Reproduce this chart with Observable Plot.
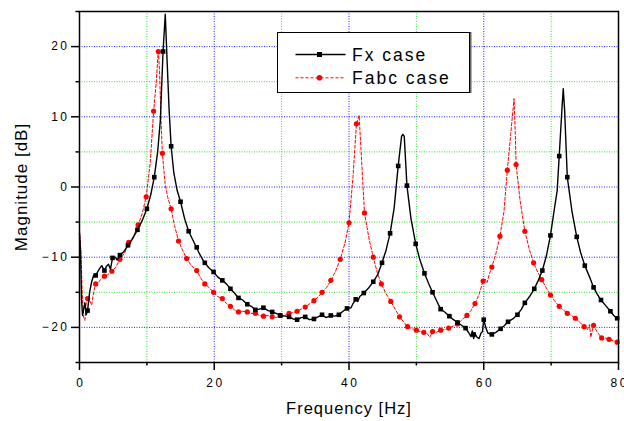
<!DOCTYPE html>
<html>
<head>
<meta charset="utf-8">
<script src="https://cdn.jsdelivr.net/npm/d3@7"></script>
<script src="https://cdn.jsdelivr.net/npm/@observablehq/plot@0.6"></script>
<style>
  html, body { margin: 0; padding: 0; background: #fff; }
  #wrap { position: relative; width: 624px; height: 421px; }
  #legend { position: absolute; left: 277px; top: 32px; width: 191px; height: 59px;
            border: 1.5px solid #000; background: #fff; box-shadow: 1.5px 0 0 #666; }
  #legend svg { display: block; }
  #legend text { font-family: "Liberation Sans", Arial, sans-serif; font-size: 17.5px; letter-spacing: 2px; }
</style>
</head>
<body>
<div id="wrap"></div>
<script>
// ---- Fx case: continuous curve (frequency [Hz], magnitude [dB]) ----
const fxFreq = [0,0.15,0.3,0.45,0.6,0.8,1.0,1.2,1.5,1.8,2.1,2.5,3.0,3.3,3.7,4.0,4.3,4.6,4.9,5.3,5.6,6.0,6.5,7.2,7.8,8.6,9.3,10.0,10.6,11.1,11.6,12.0,12.4,12.73,13.0,13.3,13.6,14.0,14.5,15.0,15.6,16.2,16.7,17.2,17.8,18.5,19.2,19.9,20.5,21.2,21.8,22.4,23.0,23.5,24.2,24.9,25.5,26.1,26.7,27.3,28.0,28.6,29.2,29.8,30.5,31.1,31.7,32.3,32.9,33.5,34.1,34.8,35.4,36.0,36.6,37.3,37.9,38.5,39.1,39.7,40.3,40.6,41.0,41.3,41.6,42.2,42.9,43.6,44.3,44.9,45.5,46.1,46.7,47.3,47.8,48.0,48.2,48.6,49.2,49.9,50.5,51.2,51.8,52.4,53.0,53.6,54.2,54.9,55.5,56.1,56.7,57.3,57.8,58.1,58.3,58.5,58.7,59.0,59.3,59.6,59.8,60.0,60.3,60.6,61.2,61.8,62.5,63.0,63.6,64.3,65.0,65.6,66.1,66.8,67.5,68.1,68.7,69.3,69.9,70.5,70.9,71.2,71.6,71.8,72.0,72.4,73.1,73.8,74.4,75.0,75.7,76.3,76.8,77.4,78.1,78.8,79.3,80.0];
const fxMag  = [-6.6,-9,-16,-18.3,-17.5,-16.5,-18.2,-17.6,-15,-13.5,-12.6,-12.4,-11.6,-11.2,-11.9,-11.3,-11.0,-11.7,-10.1,-10.0,-10.4,-9.7,-9.3,-8.3,-7.5,-6.1,-4.8,-3.1,-1.0,1.4,5.0,9.5,19.3,24.6,18,11,5.8,2.0,-0.5,-2.1,-4.5,-6.3,-7.3,-8.3,-9.5,-10.7,-11.5,-12.1,-12.8,-13.3,-13.8,-14.5,-15.1,-15.7,-16.1,-16.7,-17.0,-17.5,-17.4,-17.2,-17.6,-17.8,-18.0,-18.3,-18.4,-18.5,-18.8,-18.9,-18.6,-18.5,-18.9,-18.8,-18.5,-18.2,-18.6,-18.3,-18.4,-18.2,-17.7,-17.3,-17.2,-16.6,-16.0,-16.3,-15.6,-15.1,-14.4,-13.5,-12.4,-10.8,-9.0,-6.6,-3.0,3.0,7.2,7.5,7.2,0.2,-4.5,-8.1,-10.3,-12.3,-13.7,-15.0,-16.2,-17.4,-17.8,-18.4,-18.9,-19.3,-19.7,-20.1,-20.8,-21.3,-20.5,-21.6,-20.9,-21.4,-21.6,-20.8,-20.6,-18.9,-20.0,-20.8,-21.0,-20.7,-20.2,-19.8,-19.2,-18.8,-18.2,-17.4,-16.5,-15.6,-14.5,-13.3,-11.9,-9.8,-6.9,-3.0,-0.5,4.4,11,14.0,11,1.4,-3.5,-7.1,-9.4,-11.2,-12.8,-14.3,-15.2,-16.1,-16.9,-17.7,-18.3,-18.9];
// ---- Fx case: square markers ----
const fxMarkFreq = [1.2,2.4,3.7,4.9,6.0,7.2,8.6,10.0,11.1,12.4,13.6,15.0,16.2,17.4,18.6,19.9,21.2,22.4,23.6,24.9,26.1,27.3,28.6,29.8,31.1,32.3,33.5,34.8,36.0,37.3,38.5,39.7,41.0,42.2,43.6,44.9,46.1,47.3,48.6,49.9,51.2,52.4,53.6,54.9,56.1,57.3,58.5,60.0,61.2,62.5,63.6,65.0,66.1,67.5,68.7,69.9,71.2,72.4,73.8,75.0,76.3,77.4,78.8,79.8];
const fxMarkMag  = [-17.6,-12.6,-11.9,-10.1,-9.7,-8.3,-6.1,-3.1,1.4,19.3,5.8,-2.1,-6.3,-8.6,-10.8,-12.1,-13.3,-14.5,-15.8,-16.7,-17.5,-17.2,-17.8,-18.3,-18.5,-18.9,-18.5,-18.8,-18.2,-18.3,-18.2,-17.3,-16.0,-15.1,-13.5,-10.8,-6.6,3.0,0.2,-8.1,-12.3,-15.0,-17.4,-18.4,-19.3,-20.1,-21.0,-18.9,-21.0,-20.2,-19.2,-18.2,-16.5,-14.5,-11.9,-6.9,4.4,1.4,-7.1,-11.2,-14.3,-16.1,-17.7,-18.7];

// ---- Fabc case: continuous curve ----
const fabcFreq = [0,0.2,0.4,0.6,0.8,1.0,1.2,1.5,1.8,2.1,2.4,2.8,3.2,3.7,4.2,4.8,5.4,6.0,6.7,7.3,8.0,8.7,9.3,9.9,10.5,11.0,11.4,11.7,11.9,12.1,12.3,12.7,13.1,13.6,14.1,14.7,15.3,15.9,16.6,17.4,18.0,18.6,19.2,19.9,20.5,21.2,21.8,22.4,23.0,23.6,24.2,24.9,25.5,26.1,26.7,27.3,28.0,28.6,29.2,29.8,30.5,31.1,31.7,32.3,32.9,33.5,34.2,34.8,35.4,36.0,36.7,37.3,38.0,38.7,39.4,40.0,40.6,41.1,41.5,41.8,42.3,43.0,43.6,44.2,44.8,45.5,46.2,46.9,47.5,48.1,48.7,49.4,50.0,50.6,51.1,51.6,52.0,52.4,53.0,53.6,54.2,54.8,55.5,56.1,56.8,57.5,58.1,58.7,59.3,59.9,60.2,60.5,60.8,61.2,61.8,62.4,63.0,63.5,64.0,64.5,64.7,64.8,65.4,66.1,66.8,67.4,68.0,68.6,69.3,69.9,70.5,71.2,71.8,72.4,73.0,73.6,74.3,74.9,75.4,75.7,75.9,76.1,76.3,76.8,77.5,78.0,78.6,79.2,80.0];
const fabcMag  = [-6.2,-9,-15,-18.5,-19.0,-16.5,-15.9,-16.2,-16.8,-15.0,-13.8,-13.6,-13.1,-12.7,-12.5,-12.0,-11.4,-10.3,-9.4,-7.9,-7.1,-5.4,-3.8,-1.4,3.5,10.8,15,19.6,16,9.5,4.8,0.5,-1.5,-3.1,-5.5,-7.7,-9.0,-10.2,-11.2,-11.9,-13.0,-13.8,-14.3,-15.0,-15.6,-15.9,-16.6,-17.0,-17.5,-17.8,-17.7,-17.8,-18.0,-18.0,-18.3,-18.4,-18.3,-18.5,-18.6,-18.3,-18.3,-18.0,-17.9,-17.7,-17.4,-17.1,-16.6,-16.2,-15.7,-15.0,-14.3,-13.3,-12.0,-10.3,-8.0,-5.1,1.5,9.0,10.2,5,-3.7,-7.5,-10.0,-12.2,-13.8,-15.2,-16.3,-17.5,-18.5,-19.2,-19.9,-20.2,-20.4,-20.6,-20.7,-20.9,-21.4,-20.6,-20.7,-20.4,-20.3,-20.1,-19.8,-19.5,-18.9,-18.3,-17.6,-16.6,-15.3,-13.4,-13.1,-13.6,-12.5,-11.4,-9.5,-7.0,-3.5,2.4,7.5,12.6,7,3.2,-2.0,-6.3,-9.0,-10.8,-12.1,-13.2,-14.4,-15.4,-16.2,-17.0,-17.5,-18.0,-18.3,-18.7,-19.3,-19.9,-20.3,-19.6,-21.4,-20.5,-19.7,-20.6,-21.5,-21.5,-21.7,-21.9,-22.1];
// ---- Fabc case: circle markers ----
const fabcMarkFreq = [1.2,2.4,3.7,4.8,6.0,7.3,8.7,9.9,11.0,11.7,12.3,13.6,14.7,15.9,17.4,18.6,19.9,21.2,22.4,23.6,24.9,26.1,27.3,28.6,29.8,31.1,32.3,33.5,34.8,36.0,37.3,38.7,40.0,41.1,42.3,43.6,44.8,46.2,47.5,48.7,50.0,51.1,52.4,53.6,54.8,56.1,57.5,58.7,59.9,61.2,62.4,63.5,64.8,66.1,67.4,68.6,69.9,71.2,72.4,73.6,74.9,76.3,77.5,78.6,79.8];
const fabcMarkMag  = [-15.9,-13.8,-12.7,-12.0,-10.3,-7.9,-5.4,-1.4,10.8,19.3,4.8,-3.1,-7.7,-10.2,-11.9,-13.8,-15.0,-15.9,-17.0,-17.8,-17.8,-18.0,-18.4,-18.5,-18.3,-18.0,-17.7,-17.1,-16.2,-15.0,-13.3,-10.3,-5.1,9.0,-3.7,-10.0,-13.8,-16.3,-18.5,-19.9,-20.4,-20.7,-20.6,-20.4,-20.1,-19.5,-18.3,-16.6,-13.4,-11.4,-7.0,2.4,3.2,-6.3,-10.8,-13.2,-15.4,-17.0,-18.0,-18.7,-19.9,-19.7,-21.5,-21.7,-22.1];

// ---- ticks and grid ----
const xTickLabels = [0, 20, 40, 60, 80];
const xMinorTicks = [10, 30, 50, 70];
const yTickLabels = [-20, -10, 0, 10, 20];
const yMinorTicks = [-25, -15, -5, 5, 15, 25];
const gridBlueX = [20, 40, 60];
const gridGreenX = [10, 30, 50, 70];
const gridBlueY = [-20, -10, 0, 10, 20];
const gridGreenY = [-15, -5, 5, 15];
const seriesNames = ["Fx case", "Fabc case"];
const xTitle = "Frequency [Hz]";
const yTitle = "Magnitude [dB]";

const zip = (a, b) => a.map((f, i) => ({f, v: b[i]}));
const fx = zip(fxFreq, fxMag);
const fxMarks = zip(fxMarkFreq, fxMarkMag);
const fabc = zip(fabcFreq, fabcMag);
const fabcMarks = zip(fabcMarkFreq, fabcMarkMag);

const dots = "1,1.5";
const chart = Plot.plot({
  width: 624, height: 421,
  marginLeft: 79, marginRight: 6, marginTop: 11, marginBottom: 59,
  x: {domain: [0, 80]},
  y: {domain: [-25, 25]},
  style: {fontFamily: "'Liberation Sans', Arial, sans-serif", fontSize: "12px", color: "black", background: "white"},
  marks: [
    Plot.ruleX(gridGreenX, {stroke: "#33e033", strokeDasharray: dots, strokeWidth: 1}),
    Plot.ruleX(gridBlueX, {stroke: "#2222ff", strokeDasharray: dots, strokeWidth: 1}),
    Plot.ruleY(gridGreenY, {stroke: "#33e033", strokeDasharray: dots, strokeWidth: 1}),
    Plot.ruleY(gridBlueY, {stroke: "#2222ff", strokeDasharray: dots, strokeWidth: 1}),
    Plot.line(fabc, {x: "f", y: "v", stroke: "#ff0000", strokeWidth: 1, strokeDasharray: "3,2"}),
    Plot.dot(fabcMarks, {x: "f", y: "v", symbol: "circle", r: 2.6, fill: "#ff0000", stroke: "none"}),
    Plot.line(fx, {x: "f", y: "v", stroke: "black", strokeWidth: 1.4}),
    Plot.dot(fxMarks, {x: "f", y: "v", symbol: "square", r: 2.6, fill: "black", stroke: "none"}),
    Plot.frame({stroke: "black", strokeWidth: 1.5}),
    Plot.axisX(xTickLabels, {tickSize: 8, tickPadding: 8, strokeWidth: 1.5, label: null, fontSize: 12}),
    Plot.axisX(xMinorTicks, {tickSize: 3.5, strokeWidth: 1.5, tickFormat: () => "", label: null}),
    Plot.axisY(yTickLabels, {tickSize: 8, tickPadding: 2, strokeWidth: 1.5, label: null, fontSize: 12}),
    Plot.axisY(yMinorTicks, {tickSize: 3.5, strokeWidth: 1.5, tickFormat: () => "", label: null}),
    Plot.text([xTitle], {text: d => d, frameAnchor: "bottom", textAnchor: "middle", lineAnchor: "middle", dy: 46.5, fontSize: 16.5}),
    Plot.text([yTitle], {text: d => d, frameAnchor: "left", textAnchor: "middle", lineAnchor: "middle", rotate: -90, dx: -58, fontSize: 17})
  ]
});
document.getElementById("wrap").appendChild(chart);
const svg = d3.select(chart);
svg.selectAll('g[aria-label="x-axis tick label"] text').style("letter-spacing", "2.5px").attr("dx", "1.25");
svg.selectAll('g[aria-label="y-axis tick label"] text').style("letter-spacing", "2.5px");
svg.selectAll('g[aria-label="text"] text').style("letter-spacing", "1px");

// ---- legend (inside plot area) ----
const legend = d3.select("#wrap").append("div").attr("id", "legend");
const ls = legend.append("svg").attr("width", 191).attr("height", 59);
const rows = [
  {name: seriesNames[0], y: 21.5, color: "black", dash: null, w: 1.4, sym: "square"},
  {name: seriesNames[1], y: 44.8, color: "#ff0000", dash: "3,2", w: 1, sym: "circle"}
];
rows.forEach(r => {
  ls.append("line").attr("x1", 17.5).attr("x2", 67.5).attr("y1", r.y).attr("y2", r.y)
    .attr("stroke", r.color).attr("stroke-width", r.w).attr("stroke-dasharray", r.dash);
  if (r.sym === "square") ls.append("rect").attr("x", 39).attr("y", r.y - 2.5).attr("width", 5).attr("height", 5).attr("fill", r.color);
  else ls.append("circle").attr("cx", 41.5).attr("cy", r.y).attr("r", 2.8).attr("fill", r.color);
  ls.append("text").attr("x", 74).attr("y", r.y + 6.2).text(r.name);
});
</script>
</body>
</html>
